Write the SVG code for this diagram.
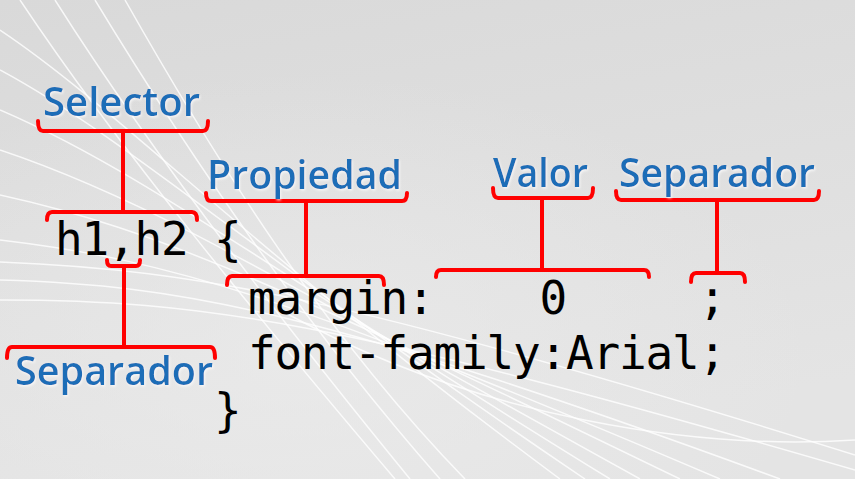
<svg xmlns="http://www.w3.org/2000/svg" width="855" height="479" viewBox="0 0 855 479">
  <defs>
    <linearGradient id="bg" x1="0" y1="0" x2="0.3" y2="1">
      <stop offset="0" stop-color="#d9d9d9"/>
      <stop offset="1" stop-color="#e4e4e4"/>
    </linearGradient>
    <radialGradient id="glow" cx="0.35" cy="0.75" r="0.6">
      <stop offset="0" stop-color="#ececec" stop-opacity="0.7"/>
      <stop offset="1" stop-color="#ececec" stop-opacity="0"/>
    </radialGradient>
    <filter id="halo" x="-10%" y="-20%" width="120%" height="140%">
      <feDropShadow dx="1" dy="1.5" stdDeviation="1" flood-color="#ffffff" flood-opacity="0.7"/>
    </filter>
  </defs>
  <style>
    .swoosh { fill: none; stroke: #ffffff; stroke-width: 1.5; stroke-opacity: 0.8; }
    .code { font-family: "DejaVu Sans Mono", "Liberation Mono", monospace; font-size: 46px; letter-spacing: -1.2px; fill: #000000; }
    .label { font-family: "Open Sans", "Liberation Sans", sans-serif; font-size: 40px; font-weight: 600; fill: #1c6db7; filter: url(#halo); }
    .br { fill: none; stroke: #ff0000; stroke-width: 4; stroke-linejoin: round; stroke-linecap: round; }
  </style>

  <rect x="0" y="0" width="855" height="479" fill="url(#bg)"/>
  <rect x="0" y="0" width="855" height="479" fill="url(#glow)"/>

  <g id="background-swooshes">
    <path class="swoosh" d="M 20 0 C 120 150, 260 320, 395 479"/>
    <path class="swoosh" d="M 55 0 C 150 150, 280 320, 410 479"/>
    <path class="swoosh" d="M 95 0 C 180 140, 300 320, 440 479"/>
    <path class="swoosh" d="M 125 0 C 210 150, 320 330, 465 479"/>
    <path class="swoosh" d="M 0 30 C 120 110, 250 250, 560 479"/>
    <path class="swoosh" d="M 0 70 C 130 140, 260 260, 585 479"/>
    <path class="swoosh" d="M 0 110 C 140 170, 270 270, 610 479"/>
    <path class="swoosh" d="M 0 150 C 150 200, 280 280, 640 479"/>
    <path class="swoosh" d="M 0 195 C 160 230, 290 290, 680 479"/>
    <path class="swoosh" d="M 0 240 C 170 260, 300 300, 720 479"/>
    <path class="swoosh" d="M 0 280 C 180 285, 320 310, 780 479"/>
    <path class="swoosh" d="M 0 300 C 200 300, 340 320, 855 470"/>
    <path class="swoosh" d="M 0 262 C 200 270, 360 300, 855 455"/>
    <path class="swoosh" d="M 280 310 C 480 420, 700 450, 855 440"/>
  </g>

  <g id="connectors">
    <!-- Selector -> h1,h2 -->
    <path class="br" d="M 38 121 Q 38 131 43 131 L 203 131 Q 208 131 208 121"/>
    <line class="br" x1="123" y1="131" x2="123" y2="212"/>
    <path class="br" d="M 47 220 Q 47 212 52 212 L 192 212 Q 197 212 197 220"/>
    <!-- comma -> Separador (left) -->
    <path class="br" d="M 107 260 Q 107 266 111 266 L 136 266 Q 140 266 140 260"/>
    <line class="br" x1="124" y1="266" x2="124" y2="347"/>
    <path class="br" d="M 7 358 Q 7 347 12 347 L 210 347 Q 215 347 215 358"/>
    <!-- Propiedad -> margin -->
    <path class="br" d="M 206 193 Q 206 201 211 201 L 402 201 Q 407 201 407 193"/>
    <line class="br" x1="306" y1="201" x2="306" y2="276"/>
    <path class="br" d="M 227 285 Q 227 276 232 276 L 379 276 Q 384 276 384 285"/>
    <!-- Valor -> 0 -->
    <path class="br" d="M 493 188 Q 493 198 498 198 L 588 198 Q 593 198 593 188"/>
    <line class="br" x1="542" y1="198" x2="542" y2="270"/>
    <path class="br" d="M 436 277 Q 436 270 441 270 L 644 270 Q 649 270 649 277"/>
    <!-- Separador (right) -> ; -->
    <path class="br" d="M 616 191 Q 616 200 621 200 L 814 200 Q 819 200 819 191"/>
    <line class="br" x1="717" y1="200" x2="717" y2="273"/>
    <path class="br" d="M 691 282 Q 691 273 696 273 L 740 273 Q 745 273 745 282"/>
  </g>

  <g id="label-selector"><text class="label" x="43" y="116" textLength="157" lengthAdjust="spacingAndGlyphs">Selector</text></g>
  <g id="label-propiedad"><text class="label" x="207" y="189" textLength="195" lengthAdjust="spacingAndGlyphs">Propiedad</text></g>
  <g id="label-valor"><text class="label" x="493" y="187" textLength="95" lengthAdjust="spacingAndGlyphs">Valor</text></g>
  <g id="label-separador-right"><text class="label" x="619" y="187" textLength="196" lengthAdjust="spacingAndGlyphs">Separador</text></g>
  <g id="label-separador-left"><text class="label" x="15" y="385" textLength="198" lengthAdjust="spacingAndGlyphs">Separador</text></g>

  <g id="code-selector"><text class="code" x="55" y="255">h1,h2 {</text></g>
  <g id="code-margin">
    <text class="code" x="248" y="314">margin:</text>
    <text class="code" x="539.5" y="314">0</text>
    <text class="code" x="698.5" y="314">;</text>
  </g>
  <g id="code-font-family"><text class="code" x="248" y="369">font-family:Arial;</text></g>
  <g id="code-close"><text class="code" x="214" y="426">}</text></g>
</svg>
